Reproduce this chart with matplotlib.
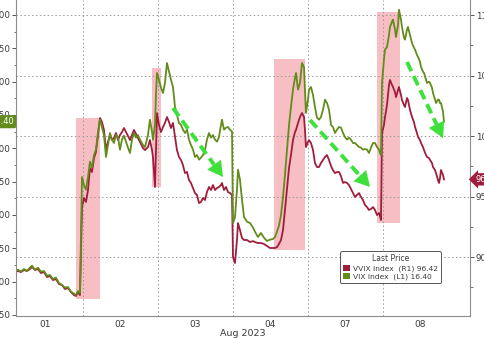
import matplotlib
matplotlib.use("Agg")
import matplotlib.pyplot as plt
import matplotlib.transforms as mtransforms
from matplotlib.patches import Rectangle, Patch
from matplotlib.ticker import MultipleLocator, FixedLocator

# ---------------- data ----------------
# time in trading days since start (day 0 = Aug 01)
t = [0.093,0.133,0.173,0.213,0.253,0.293,0.32,0.36,0.40,0.44,0.48,0.52,0.56,0.60,0.64,0.68,0.72,0.76,0.80,0.84,0.88,0.907,0.933,0.96,
     0.987,1.013,1.04,1.067,1.093,1.12,1.147,1.173,1.20,1.227,1.253,1.28,1.307,1.333,1.36,1.387,1.413,1.44,1.467,1.493,1.52,1.547,1.573,1.60,1.627,1.653,1.68,1.707,1.733,1.76,
     1.80,1.827,1.867,1.893,1.92,1.933,1.96,1.973,1.987,2.013,2.04,2.067,2.093,2.12,2.147,2.173,2.20,2.227,2.253,2.28,2.307,2.333,2.36,2.387,2.413,2.44,2.467,2.493,2.52,2.547,2.573,2.60,2.627,2.653,2.68,2.707,2.733,2.76,2.787,2.813,2.84,2.853,2.88,2.907,2.933,2.96,2.987,
     3.00,3.027,3.053,3.067,3.093,3.12,3.147,3.187,3.227,3.267,3.293,3.333,3.373,3.413,3.453,3.493,3.533,3.56,3.587,3.613,3.64,3.667,3.693,3.72,3.747,3.773,3.80,3.827,3.84,3.867,3.893,3.92,3.947,3.96,3.973,4.00,4.013,4.04,4.067,4.093,4.12,4.147,4.173,4.20,4.227,4.253,4.28,4.307,4.333,4.36,4.387,4.413,4.44,4.467,4.493,4.52,4.547,4.573,4.60,4.627,4.653,4.68,4.707,4.733,4.76,4.787,4.813,4.84,4.867,4.893,4.92,4.947,4.96,4.973,
     4.987,5.013,5.027,5.053,5.08,5.093,5.12,5.133,5.16,5.173,5.20,5.213,5.24,5.253,5.28,5.293,5.32,5.333,5.36,5.387,5.413,5.427,5.453,5.467,5.493,5.507,5.533,5.547,5.573,5.587,5.613,5.627,5.653,5.667,5.693,5.707,5.733,5.747,5.76,5.773,5.80,5.813]

vix = [14.15,14.18,14.15,14.19,14.16,14.21,14.24,14.18,14.21,14.15,14.16,14.09,14.10,14.04,14.06,13.98,13.95,13.91,13.92,13.85,13.82,13.80,13.86,13.83,
       15.57,15.45,15.38,15.57,15.80,15.71,15.90,15.98,16.23,16.43,16.32,16.20,15.87,16.05,16.23,16.13,16.08,16.20,16.17,15.98,16.13,16.19,16.10,16.01,15.93,16.13,16.23,16.16,16.20,16.13,
       16.05,16.02,16.20,16.43,16.25,16.13,16.35,16.80,17.13,17.03,16.91,16.83,16.98,17.28,17.15,17.03,16.92,16.62,16.50,16.38,16.35,16.28,16.23,16.28,16.13,16.05,15.98,15.87,15.90,15.83,15.86,15.90,15.98,16.13,16.23,16.16,16.20,16.13,16.10,16.17,16.35,16.43,16.28,16.31,16.32,16.28,16.25,
       14.88,14.97,15.38,15.68,15.53,15.23,14.97,14.90,14.88,14.81,14.75,14.67,14.73,14.66,14.61,14.63,14.64,14.67,14.75,14.84,15.00,15.27,15.60,15.98,16.35,16.62,16.88,17.06,17.13,16.88,16.98,17.28,17.22,16.88,16.53,16.73,16.88,16.92,16.80,16.62,16.46,16.43,16.47,16.58,16.73,16.68,16.58,16.35,16.32,16.23,16.28,16.32,16.31,16.23,16.17,16.13,16.16,16.13,16.08,16.08,16.05,16.02,16.01,15.98,15.99,15.98,15.93,16.01,16.08,16.08,16.02,15.98,15.93,15.90,
       16.98,17.33,17.48,17.52,17.70,17.82,17.90,17.93,17.78,17.67,17.85,18.08,17.93,17.82,17.66,17.63,17.78,17.82,17.70,17.58,17.51,17.48,17.40,17.37,17.30,17.22,17.15,17.13,17.03,16.98,17.00,16.98,16.91,16.83,16.73,16.68,16.73,16.73,16.68,16.68,16.55,16.40]

vvix = [88.76,88.85,88.76,88.93,88.85,89.01,89.18,88.93,89.01,88.68,88.76,88.35,88.43,88.10,88.18,87.77,87.69,87.36,87.44,87.11,86.86,86.78,87.11,86.86,
        94.13,94.88,94.55,95.54,97.36,97.03,98.18,98.68,100.08,101.49,101.16,100.50,98.84,99.51,100.08,99.67,99.84,100.25,99.67,100.08,100.33,100.66,100.33,100.00,99.67,100.08,100.50,100.17,99.84,99.51,
        99.01,98.84,99.09,99.67,98.84,98.27,95.79,98.84,101.90,100.91,100.33,100.75,101.08,101.57,101.16,100.66,101.08,99.92,98.84,98.27,98.02,97.60,96.94,97.03,96.37,96.12,95.70,95.29,95.13,94.46,94.55,94.88,94.71,95.37,95.79,95.54,95.95,95.54,95.70,95.79,95.95,96.12,95.54,95.79,95.37,95.29,95.13,
        90.00,89.51,91.41,92.81,92.23,91.57,91.41,91.41,91.24,91.32,91.24,91.16,91.16,91.08,90.91,90.75,90.75,90.75,90.83,91.08,91.41,92.23,93.89,95.54,97.36,98.43,99.67,100.33,100.50,101.08,101.57,101.90,101.57,100.50,99.09,99.51,99.67,99.42,98.84,97.77,97.44,97.44,97.77,98.02,98.27,98.43,98.02,97.52,97.19,96.94,97.03,97.03,96.70,96.12,96.20,96.12,95.95,95.62,95.29,94.96,95.13,95.29,94.96,94.71,94.30,94.13,93.89,93.97,94.13,93.89,93.47,93.64,93.39,93.06,
        100.25,100.91,101.57,102.56,104.22,104.63,104.22,104.05,103.64,103.22,103.80,104.05,103.39,102.98,102.56,102.40,103.14,102.98,102.15,101.57,101.16,100.75,100.25,99.92,99.67,99.42,99.09,98.84,98.43,98.27,98.18,98.02,97.77,97.44,97.19,96.94,96.37,96.12,96.53,97.19,96.78,96.42]

day_labels = ["01", "02", "03", "04", "07", "08"]
day_centers = [0.5, 1.5, 2.5, 3.5, 4.5, 5.5]
day_bounds = [1, 2, 3, 4, 5]

# highlighted spike windows (time, VIX units)
shade_x0 = [0.907, 1.92, 3.547, 4.92]
shade_x1 = [1.227, 2.04, 3.96, 5.227]
shade_y0 = [13.74, 15.42, 14.475, 14.88]
shade_y1 = [16.455, 17.205, 17.34, 18.045]

# decay arrows (time, VIX units)
arrow_x0 = [2.20, 4.027, 5.32]
arrow_y0 = [16.605, 16.425, 17.295]
arrow_x1 = [2.867, 4.827, 5.80]
arrow_y1 = [15.57, 15.42, 16.155]

last_vix = 16.40
last_vvix = 96.42

# ---------------- style ----------------
GREEN = "#638c1c"
RED = "#a01d3c"
PINK = "#f2939c"
ARROW = "#3ee03a"
GRIDC = "#9a9a9a"
TXT = "#3a3a3a"

fig = plt.figure(figsize=(4.85, 3.38), dpi=100)
fig.patch.set_facecolor("white")
ax2 = fig.add_axes([16/485, 22/338, 454/485, 316/338])   # right axis (VVIX), drawn underneath
ax = fig.add_axes(ax2.get_position(), sharex=ax2)          # left axis (VIX), on top
ax.patch.set_visible(False)

# ranges
ax.set_xlim(0.107, 6.16)
ax.set_ylim(13.485, 18.225)
ax2.set_ylim(85.13, 111.24)

# shaded windows (behind lines)
for x0, x1, y0, y1 in zip(shade_x0, shade_x1, shade_y0, shade_y1):
    ax2.add_patch(Rectangle((x0, y0), x1 - x0, y1 - y0, transform=ax.transData,
                            facecolor=PINK, alpha=0.6, edgecolor="none", zorder=0.5))

# lines
ax2.plot(t, vvix, color=RED, lw=1.3, zorder=2)
ax.plot(t, vix, color=GREEN, lw=1.3, zorder=2)

# arrows
for x0, y0, x1, y1 in zip(arrow_x0, arrow_y0, arrow_x1, arrow_y1):
    xm = x0 + 0.82 * (x1 - x0)
    ym = y0 + 0.82 * (y1 - y0)
    ax.plot([x0, xm], [y0, ym], color=ARROW, lw=2.8, ls=(0, (2.6, 1.4)), zorder=4,
            dash_capstyle="butt")
    ax.annotate("", xy=(x1, y1), xytext=(xm - 0.02 * (x1 - x0), ym - 0.02 * (y1 - y0)),
                arrowprops=dict(arrowstyle="-|>,head_width=0.5,head_length=0.9",
                                color=ARROW, lw=0.1, shrinkA=0, shrinkB=0,
                                mutation_scale=12), zorder=4)

# grids: horizontal from right axis, vertical at day boundaries
ax2.yaxis.set_major_locator(FixedLocator([90, 95, 100, 105, 110]))
ax2.yaxis.set_minor_locator(MultipleLocator(2.5))
ax2.grid(axis="y", which="major", color=GRIDC, ls=(0, (1.5, 2.5)), lw=0.7)
ax2.xaxis.set_major_locator(FixedLocator(day_centers))
ax2.xaxis.set_minor_locator(FixedLocator(day_bounds))
ax2.grid(axis="x", which="minor", color=GRIDC, ls=(0, (1.5, 2.5)), lw=0.7)

# right axis ticks
ax2.yaxis.tick_right()
ax2.tick_params(axis="y", which="major", direction="out", length=3, width=0.6,
                colors=TXT, labelsize=6.3, pad=1.2)
ax2.tick_params(axis="y", which="minor", direction="out", length=1.8, width=0.5, colors=TXT)
ax2.set_yticklabels(["90", "95", "100", "105", "110"])

# x ticks
ax2.set_xticks(day_centers)
ax2.set_xticklabels(day_labels)
ax2.tick_params(axis="x", which="both", length=0, labelsize=6.5, colors=TXT, pad=3)
ax2.set_xlabel("Aug 2023", fontsize=6.8, color=TXT, labelpad=0)
ax.tick_params(axis="x", which="both", bottom=False, labelbottom=False)

# left axis ticks
ax.yaxis.tick_left()
ax.set_yticks([13.5, 14.0, 14.5, 15.0, 15.5, 16.0, 16.5, 17.0, 17.5, 18.0])
ax.yaxis.set_minor_locator(MultipleLocator(0.25))
ax.set_yticklabels(["13.50", "14.00", "14.50", "15.00", "15.50", "16.00",
                    "16.50", "17.00", "17.50", "18.00"])
ax.tick_params(axis="y", which="major", direction="out", length=3, width=0.6,
               colors=TXT, labelsize=6.3, pad=1.5)
ax.tick_params(axis="y", which="minor", direction="out", length=1.8, width=0.5, colors=TXT)

# spines
for a in (ax, ax2):
    a.spines["top"].set_visible(False)
for s in ("left", "right", "bottom"):
    ax2.spines[s].set_color("#8c8c8c")
    ax2.spines[s].set_linewidth(0.8)
ax.spines["left"].set_color("#8c8c8c")
ax.spines["left"].set_linewidth(0.8)
ax.spines["right"].set_visible(False)
ax.spines["bottom"].set_visible(False)
ax2.spines["left"].set_visible(False)

# last-value badges
trL = mtransforms.blended_transform_factory(ax.transAxes, ax.transData)
ax.text(-0.004, last_vix, f"{last_vix:.2f}", transform=trL, ha="right", va="center",
        fontsize=6, color="white", clip_on=False, zorder=6,
        bbox=dict(boxstyle="round,pad=0.25", fc=GREEN, ec="none"))
trR = mtransforms.blended_transform_factory(ax2.transAxes, ax2.transData)
ax2.text(1.012, last_vvix, f"{last_vvix:.2f}", transform=trR, ha="left", va="center",
         fontsize=6, color="white", clip_on=False, zorder=6,
         bbox=dict(boxstyle="larrow,pad=0.2", fc=RED, ec="none"))

# legend
handles = [Patch(facecolor=RED, edgecolor="none"), Patch(facecolor=GREEN, edgecolor="none")]
labels = [f"VVIX Index  (R1) {last_vvix:.2f}", f"VIX Index  (L1) {last_vix:.2f}"]
leg = ax.legend(handles, labels, title="Last Price", loc="lower left",
                bbox_to_anchor=(0.714, 0.104), fontsize=5.4, title_fontsize=5.5,
                frameon=True, fancybox=True, borderpad=0.4, handlelength=0.9,
                handleheight=0.9, handletextpad=0.35, labelspacing=0.15,
                borderaxespad=0)
leg.get_frame().set_edgecolor("#555555")
leg.get_frame().set_linewidth(0.7)
leg.get_frame().set_facecolor("white")
leg.get_frame().set_alpha(1)
for txt in leg.get_texts():
    txt.set_color(TXT)
leg.get_title().set_color(TXT)
leg.set_zorder(7)

fig.savefig("out.png", dpi=100)
